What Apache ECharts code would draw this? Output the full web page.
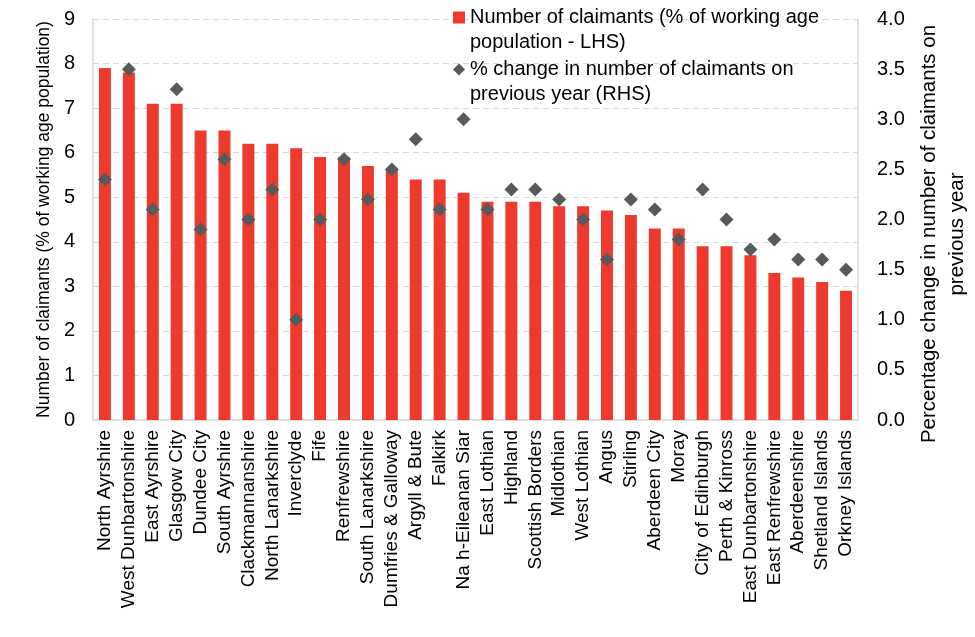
<!DOCTYPE html>
<html><head><meta charset="utf-8">
<script src="https://cdn.jsdelivr.net/npm/echarts@6/dist/echarts.min.js"></script>
<style>html,body{margin:0;padding:0;background:#fff}#c{width:975px;height:637px}</style>
</head><body><div id="c"></div>
<script>
const categories = ["North Ayrshire","West Dunbartonshire","East Ayrshire","Glasgow City","Dundee City","South Ayrshire","Clackmannanshire","North Lanarkshire","Inverclyde","Fife","Renfrewshire","South Lanarkshire","Dumfries & Galloway","Argyll & Bute","Falkirk","Na h-Eileanan Siar","East Lothian","Highland","Scottish Borders","Midlothian","West Lothian","Angus","Stirling","Aberdeen City","Moray","City of Edinburgh","Perth & Kinross","East Dunbartonshire","East Renfrewshire","Aberdeenshire","Shetland Islands","Orkney Islands"];
const claimants = [7.9,7.8,7.1,7.1,6.5,6.5,6.2,6.2,6.1,5.9,5.9,5.7,5.6,5.4,5.4,5.1,4.9,4.9,4.9,4.8,4.8,4.7,4.6,4.3,4.3,3.9,3.9,3.7,3.3,3.2,3.1,2.9];
const pctChange = [2.4,3.5,2.1,3.3,1.9,2.6,2.0,2.3,1.0,2.0,2.6,2.2,2.5,2.8,2.1,3.0,2.1,2.3,2.3,2.2,2.0,1.6,2.2,2.1,1.8,2.3,2.0,1.7,1.8,1.6,1.6,1.5];
const leftTicks = {min:0,max:9,interval:1};
const rightTicks = {min:0,max:4,interval:0.5};
const seriesNames = ["Number of claimants (% of working age population - LHS)","% change in number of claimants on previous year (RHS)"];
const legendLines = {};
legendLines[seriesNames[0]] = "\nNumber of claimants (% of working age\npopulation - LHS)";
legendLines[seriesNames[1]] = "\n% change in number of claimants on\nprevious year (RHS)";

const FONT = "Liberation Sans, Arial, sans-serif";
const chart = echarts.init(document.getElementById('c'), null, {renderer:'canvas'});
chart.setOption({
  animation:false,
  textStyle:{fontFamily:FONT},
  grid:{left:93,right:117,top:19,bottom:217,containLabel:false,outerBoundsMode:'none'},
  legend:{
    orient:'vertical', left:453, top:-20, padding:0, itemGap:-23,
    itemWidth:12, itemHeight:12,
    data:[{name:seriesNames[0],icon:'rect'},{name:seriesNames[1],icon:'diamond'}],
    formatter:n=>legendLines[n],
    textStyle:{fontSize:20,color:'#000',lineHeight:25,fontFamily:FONT}
  },
  xAxis:{
    type:'category', data:categories,
    axisLine:{lineStyle:{color:'#D9D9D9',width:1.5}},
    axisTick:{show:false},
    axisLabel:{rotate:90,interval:0,fontSize:19,color:'#000',margin:10,fontFamily:FONT}
  },
  yAxis:[{
    type:'value', ...leftTicks, position:'left',
    name:'Number of claimants (% of working age population)',
    nameLocation:'middle', nameGap:37,
    nameTextStyle:{fontSize:17.5,color:'#000',fontFamily:FONT},
    axisLine:{show:true,lineStyle:{color:'#D9D9D9',width:1.5}},
    axisTick:{show:false},
    axisLabel:{fontSize:20,color:'#000',margin:18,fontFamily:FONT},
    splitLine:{show:true,lineStyle:{color:'#D9D9D9',type:[6,4],width:1}}
  },{
    type:'value', ...rightTicks, position:'right',
    name:'Percentage change in number of claimants on\nprevious year',
    nameLocation:'middle', nameGap:50,
    nameTextStyle:{fontSize:20.5,color:'#000',lineHeight:28,align:'center',padding:[0,29,0,0],fontFamily:FONT},
    axisLine:{show:true,lineStyle:{color:'#D9D9D9',width:1.5}},
    axisTick:{show:false},
    axisLabel:{fontSize:20,color:'#000',margin:19,fontFamily:FONT,formatter:v=>v.toFixed(1)},
    splitLine:{show:false}
  }],
  series:[{
    name:seriesNames[0], type:'bar', data:claimants, yAxisIndex:0,
    barWidth:'50%', itemStyle:{color:'#EE3A2E'}
  },{
    name:seriesNames[1], type:'scatter', data:pctChange, yAxisIndex:1,
    symbol:'diamond', symbolSize:14, itemStyle:{color:'#595959',opacity:1}
  }]
});
</script></body></html>
